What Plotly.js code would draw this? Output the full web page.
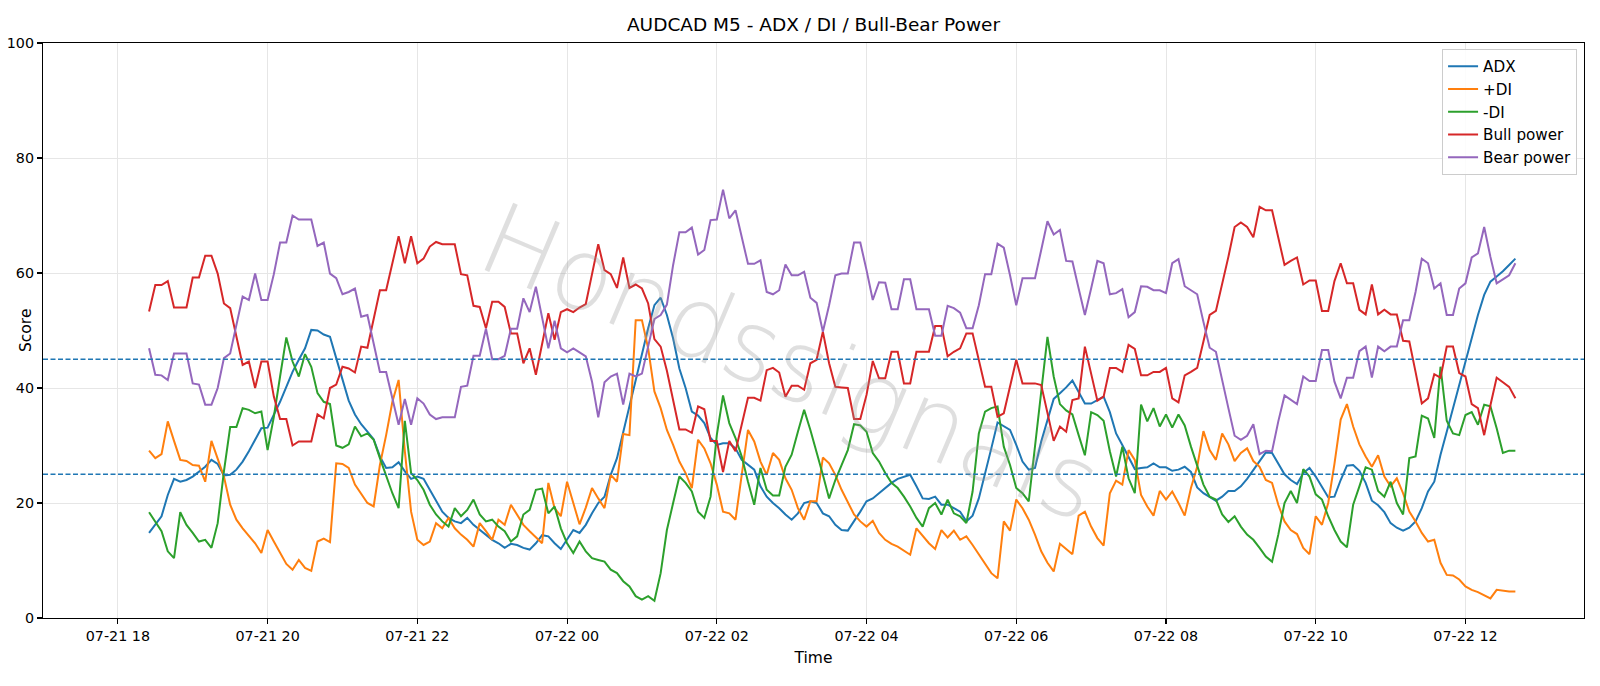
<!DOCTYPE html>
<html>
<head>
<meta charset="utf-8">
<script src="https://cdn.plot.ly/plotly-3.0.1.min.js"></script>
<style>
  html, body { margin: 0; padding: 0; background: #fff; }
  #chart { width: 1600px; height: 686px; }
</style>
</head>
<body>
<div id="chart"></div>
<script>
// ---- Data (5-minute bars, 2025-07-21 18:25 -> 2025-07-22 12:40) ----
const startTime = "2025-07-21 18:25";
const stepMinutes = 5;

const adx = [
  14.8,16.2,17.7,21.4,24.2,23.7,24.0,24.6,25.5,26.3,27.5,26.8,24.8,24.9,25.8,27.2,29.0,31.0,33.0,33.1,
  35.3,37.6,40.2,42.8,44.9,46.9,50.1,50.0,49.3,48.9,45.2,41.4,37.8,35.4,33.7,32.4,31.1,28.1,26.1,26.2,
  27.1,25.5,24.2,24.6,24.2,22.3,20.3,18.5,17.4,16.8,16.5,17.4,16.2,15.3,14.5,13.6,13.0,12.2,12.9,12.7,
  12.2,11.9,13.0,14.4,14.2,13.0,12.0,13.6,15.3,14.8,16.2,18.2,20.0,21.1,24.9,27.8,32.4,36.8,41.7,46.3,
  50.4,54.4,55.7,52.7,48.6,43.4,40.0,35.9,35.2,33.9,31.3,30.1,30.4,30.4,29.5,27.5,26.6,25.8,22.9,21.1,
  20.0,19.1,18.0,17.1,18.2,20.0,20.3,20.0,18.2,17.7,16.2,15.3,15.2,16.8,18.5,20.3,20.8,21.7,22.6,23.5,
  24.2,24.6,24.9,22.9,20.8,20.7,21.1,19.7,19.7,19.1,18.5,16.8,17.8,20.8,24.9,29.5,34.0,33.3,32.7,30.1,
  27.2,25.8,26.1,30.7,34.2,38.1,39.1,40.1,41.3,39.4,37.3,37.3,37.9,38.5,35.8,32.1,30.1,27.9,25.9,26.1,
  26.2,26.9,26.2,26.2,25.6,25.8,26.3,25.4,22.7,21.7,21.0,20.4,21.1,22.1,22.1,22.9,24.2,25.8,27.2,28.8,
  28.7,26.9,25.0,24.0,23.3,25.2,26.1,24.6,22.9,21.0,21.1,24.0,26.5,26.6,25.6,23.5,20.4,19.6,18.4,16.5,
  15.7,15.2,15.7,16.8,19.1,22.0,23.7,28.4,32.4,36.5,40.5,44.6,48.9,52.7,56.2,58.5,59.4,60.3,61.4,62.5
];
const plusDI = [
  29.1,27.8,28.5,34.2,30.8,27.5,27.3,26.6,26.5,23.7,30.8,27.8,24.6,19.7,17.1,15.6,14.2,13.0,11.3,15.3,
  13.3,11.3,9.4,8.4,10.1,8.7,8.2,13.3,13.8,13.2,26.9,26.8,26.1,23.2,21.7,20.0,19.4,26.6,31.8,37.6,
  41.4,29.0,18.5,13.6,12.7,13.3,16.5,15.6,17.4,15.6,14.5,13.6,12.4,16.5,15.1,13.6,17.1,16.2,19.7,18.0,
  16.2,15.1,14.0,13.0,23.5,19.1,17.7,23.7,20.0,16.3,19.2,22.6,20.8,19.1,24.9,23.7,32.0,31.8,51.8,51.8,
  46.9,39.4,36.5,32.7,30.1,27.2,25.2,22.6,31.0,29.5,26.9,23.2,18.5,18.2,17.1,24.9,32.7,30.7,27.2,24.9,
  28.7,27.5,24.3,22.3,19.1,17.1,20.3,20.3,27.9,26.9,24.9,22.3,20.0,18.0,16.8,15.9,16.9,14.8,13.6,12.9,
  12.4,11.7,11.0,15.6,14.2,13.0,12.0,15.3,14.0,15.2,13.6,14.2,12.7,11.0,9.3,7.8,6.9,16.8,15.2,20.6,
  19.1,17.1,14.5,11.6,9.6,8.1,12.9,12.0,11.1,17.8,18.5,15.9,13.9,12.6,21.7,23.9,23.2,29.2,27.5,21.4,
  19.4,17.8,22.1,20.6,22.0,20.0,17.8,22.6,26.3,32.5,29.2,27.5,32.1,30.2,27.3,28.7,29.5,27.3,26.3,24.0,
  23.5,19.7,16.8,15.3,14.6,12.2,11.1,17.7,16.2,20.0,26.8,34.5,37.2,33.3,30.2,28.1,26.3,28.3,24.6,22.9,
  24.3,21.7,18.5,16.8,14.8,13.3,13.6,9.6,7.5,7.4,6.7,5.5,4.9,4.5,3.9,3.4,4.9,4.7,4.6,4.6
];
const minusDI = [
  18.4,16.8,15.1,11.6,10.4,18.4,16.2,14.8,13.3,13.6,12.2,16.5,25.5,33.2,33.2,36.5,36.2,35.6,35.9,29.2,
  35.0,42.0,48.8,44.6,42.0,45.9,43.7,39.1,37.6,37.2,30.0,29.6,30.2,33.3,31.6,32.1,31.0,27.8,24.6,21.7,
  19.1,34.3,25.2,24.0,22.3,19.7,18.0,16.8,15.9,19.1,17.7,18.8,20.6,18.0,16.8,17.1,15.9,15.1,13.3,14.2,
  18.0,18.8,22.3,22.5,18.2,19.4,15.6,13.0,11.3,13.3,11.6,10.4,10.1,9.8,8.4,7.8,6.4,5.5,3.8,3.2,
  3.8,3.0,7.8,15.3,20.0,24.6,23.5,22.0,18.5,17.4,21.1,31.8,38.7,33.9,31.3,28.1,23.7,19.7,26.1,22.3,
  21.3,21.3,26.3,28.4,32.4,36.2,32.7,29.0,24.9,20.8,24.0,26.6,29.2,33.7,33.5,32.4,28.7,27.2,25.2,23.5,
  22.6,21.1,19.4,17.4,15.9,19.1,20.0,18.0,20.6,18.2,17.7,16.5,22.0,32.1,35.9,36.5,36.8,29.8,26.6,22.6,
  21.7,20.3,30.0,39.8,48.9,42.0,37.2,36.1,35.4,31.8,28.3,35.8,35.3,34.3,29.0,24.6,29.8,24.3,21.7,37.1,
  34.2,36.5,33.3,35.4,33.1,35.4,33.5,29.8,26.6,23.2,21.1,20.6,18.0,16.7,17.7,15.9,14.5,13.6,12.2,10.7,
  9.8,14.5,20.0,22.1,20.0,25.9,24.6,21.5,20.6,17.7,15.3,13.3,12.3,19.7,22.9,26.2,25.8,22.1,21.1,23.7,
  20.0,18.0,27.8,28.1,35.2,34.7,31.3,43.7,34.3,32.1,31.8,35.3,35.8,33.6,37.1,36.8,33.0,28.7,29.1,29.1
];
const bullPower = [
  53.3,57.9,57.9,58.6,54.0,54.0,54.0,59.2,59.2,63.0,63.0,59.9,54.7,53.9,48.9,44.0,44.6,40.0,44.6,44.6,
  38.5,34.6,34.6,30.0,30.7,30.7,30.7,35.4,34.7,40.0,40.6,43.7,43.4,42.7,47.2,47.0,52.1,57.0,57.0,62.0,
  66.4,61.7,66.4,61.7,62.5,64.6,65.4,65.0,65.0,65.0,59.8,59.6,54.3,54.1,50.4,55.0,55.0,54.1,49.5,49.5,
  44.3,46.9,42.3,47.6,53.0,48.4,53.2,53.7,53.2,54.0,54.6,59.8,65.0,60.5,59.8,57.4,62.7,57.4,58.0,57.3,
  54.7,48.5,47.2,43.0,37.6,32.8,32.8,32.2,36.8,36.3,30.8,30.8,25.4,30.8,29.0,33.8,38.3,38.3,37.8,43.1,
  43.5,42.7,38.5,40.4,40.4,39.7,44.3,44.9,49.8,44.3,40.2,40.1,40.0,34.6,34.6,38.8,44.7,41.7,41.7,46.3,
  46.3,40.8,40.8,46.3,46.3,46.3,50.8,50.8,45.5,46.3,46.9,49.5,49.5,44.9,40.2,40.2,35.0,35.6,40.2,44.9,
  40.8,40.8,40.8,40.5,35.8,30.8,33.3,32.4,37.9,38.2,47.2,42.7,37.8,38.5,43.5,43.5,42.8,47.5,46.8,42.2,
  42.2,42.8,42.8,43.5,38.2,37.5,42.2,42.8,43.5,48.1,52.7,53.4,57.9,62.8,68.0,68.8,68.0,66.2,71.5,70.9,
  70.9,66.0,61.4,62.1,62.7,58.0,58.7,58.7,53.4,53.4,58.6,61.7,58.2,58.2,53.6,52.8,58.0,52.8,53.6,52.8,
  52.8,48.2,48.1,42.8,37.3,38.2,42.4,41.8,47.2,47.2,42.6,42.0,37.2,36.5,31.8,37.0,41.8,41.0,40.2,38.2
];
const bearPower = [
  46.9,42.3,42.2,41.4,46.0,46.0,46.0,40.8,40.6,37.1,37.1,40.0,45.2,46.0,51.0,55.9,55.3,59.9,55.3,55.3,
  59.8,65.3,65.3,70.0,69.3,69.3,69.3,64.7,65.3,59.9,59.1,56.3,56.7,57.3,52.4,52.7,47.8,42.8,42.8,38.2,
  33.6,38.1,33.6,38.2,37.3,35.4,34.6,34.9,34.9,34.9,40.2,40.4,45.6,45.6,50.3,45.0,45.0,45.6,50.3,50.3,
  55.6,53.2,57.6,52.5,46.9,51.7,46.9,46.2,46.9,46.2,45.5,41.1,34.9,41.0,42.0,42.5,37.1,42.5,42.0,42.5,
  47.0,52.0,52.7,54.5,61.4,67.1,67.1,67.9,63.2,64.0,69.2,69.3,74.5,69.5,70.9,66.3,61.6,61.6,62.2,56.7,
  56.3,57.0,61.5,59.6,59.6,60.2,55.7,54.8,49.8,54.4,59.6,59.9,59.9,65.3,65.3,60.5,55.3,58.4,58.3,53.7,
  53.7,58.9,58.9,53.7,53.7,53.7,49.1,49.1,54.3,53.9,53.1,50.4,50.4,54.4,59.8,59.8,65.1,64.4,59.6,54.4,
  59.1,59.1,59.1,64.0,69.0,66.7,67.5,62.1,62.0,57.3,52.7,57.3,62.1,61.7,56.3,56.5,57.2,52.3,53.2,57.7,
  57.6,57.0,57.0,56.5,61.7,62.4,57.7,57.0,56.3,51.5,47.0,46.3,41.1,36.5,31.7,31.0,31.7,33.7,28.5,29.1,
  29.0,34.2,38.7,37.9,37.2,42.0,41.2,41.2,46.6,46.6,41.1,38.2,41.8,41.8,46.4,47.2,41.8,47.2,46.4,47.2,
  47.2,51.8,51.8,56.7,62.5,61.7,57.3,58.2,52.7,52.7,57.3,58.2,62.7,63.4,68.0,62.8,58.2,58.9,59.6,61.7
];
const thresholds = [45, 25];
const seriesNames = ["ADX", "+DI", "-DI", "Bull power", "Bear power"];
const seriesColors = ["#1f77b4", "#ff7f0e", "#2ca02c", "#d62728", "#9467bd"];
const yTickValues = [0, 20, 40, 60, 80, 100];

// ---- time axis (one label per bar) ----
function pad(n) { return (n < 10 ? "0" : "") + n; }
function toStr(ms) {
  const d = new Date(ms);
  return d.getUTCFullYear() + "-" + pad(d.getUTCMonth() + 1) + "-" + pad(d.getUTCDate()) +
         " " + pad(d.getUTCHours()) + ":" + pad(d.getUTCMinutes());
}
const t0 = Date.UTC(2025, 6, 21, 18, 25);
const times = adx.map((_, i) => toStr(t0 + i * stepMinutes * 60000));

const allSeries = [adx, plusDI, minusDI, bullPower, bearPower];
const traces = allSeries.map((ys, k) => ({
  type: "scatter",
  mode: "lines",
  x: times,
  y: ys,
  name: seriesNames[k],
  line: { color: seriesColors[k], width: 2 }
}));

const shapes = thresholds.map(v => ({
  type: "line", xref: "paper", x0: 0, x1: 1, yref: "y", y0: v, y1: v,
  line: { color: "#1f77b4", width: 1.4, dash: "5px,2.5px" }, layer: "above"
}));

const font = "DejaVu Sans, sans-serif";
const layout = {
  width: 1600, height: 686,
  paper_bgcolor: "#ffffff", plot_bgcolor: "#ffffff",
  margin: { l: 43, r: 16, t: 43, b: 68, pad: 0 },
  font: { family: font, size: 14, color: "#000" },
  title: {
    text: "AUDCAD M5 - ADX / DI / Bull-Bear Power",
    font: { family: font, size: 18.5, color: "#000" },
    x: 0.5, xanchor: "center", xref: "paper",
    y: 1 - 25 / 686, yref: "container", yanchor: "middle"
  },
  xaxis: {
    type: "date",
    range: ["2025-07-21 17:00", "2025-07-22 13:35"],
    tick0: "2025-07-21 18:00", dtick: 7200000,
    tickformat: "%m-%d %H",
    showgrid: true, gridcolor: "#e6e6e6", gridwidth: 1,
    showline: true, linecolor: "#000", linewidth: 1.1, mirror: true,
    ticks: "outside", ticklen: 5, tickwidth: 1.1, tickcolor: "#000",
    tickfont: { family: font, size: 14.3 },
    zeroline: false,
    title: { text: "Time", font: { family: font, size: 15.5 }, standoff: 8 },
    automargin: false
  },
  yaxis: {
    range: [0, 100],
    tickvals: yTickValues,
    showgrid: true, gridcolor: "#e6e6e6", gridwidth: 1,
    showline: true, linecolor: "#000", linewidth: 1.1, mirror: true,
    ticks: "outside", ticklen: 5, tickwidth: 1.1, tickcolor: "#000",
    tickfont: { family: font, size: 14.3 },
    zeroline: false,
    automargin: false
  },
  legend: {
    x: 0.9955, xanchor: "right", xref: "paper",
    y: 0.99, yanchor: "top", yref: "paper",
    bgcolor: "rgba(255,255,255,0.85)", bordercolor: "#cccccc", borderwidth: 1,
    font: { family: font, size: 15.2 },
    entrywidth: 104, entrywidthmode: "pixels",
    tracegroupgap: 0
  },
  shapes: shapes,
  annotations: [
    {
      text: "Score", xref: "paper", yref: "paper", x: (25.5 - 43) / 1541, y: 0.5,
      xanchor: "center", yanchor: "middle", textangle: -90, showarrow: false,
      font: { family: font, size: 15.5, color: "#000" }
    },
    {
      text: "Hondssignals", xref: "paper", yref: "paper",
      x: (791 - 43) / 1541, y: 1 - (362 - 43) / 575,
      xanchor: "center", yanchor: "middle", textangle: 23, showarrow: false,
      font: { family: font, size: 100, weight: 200, color: "rgba(150,150,150,0.3)" }
    }
  ],
  showlegend: true
};

Plotly.newPlot("chart", traces, layout, { displayModeBar: false, staticPlot: true });
</script>
</body>
</html>
